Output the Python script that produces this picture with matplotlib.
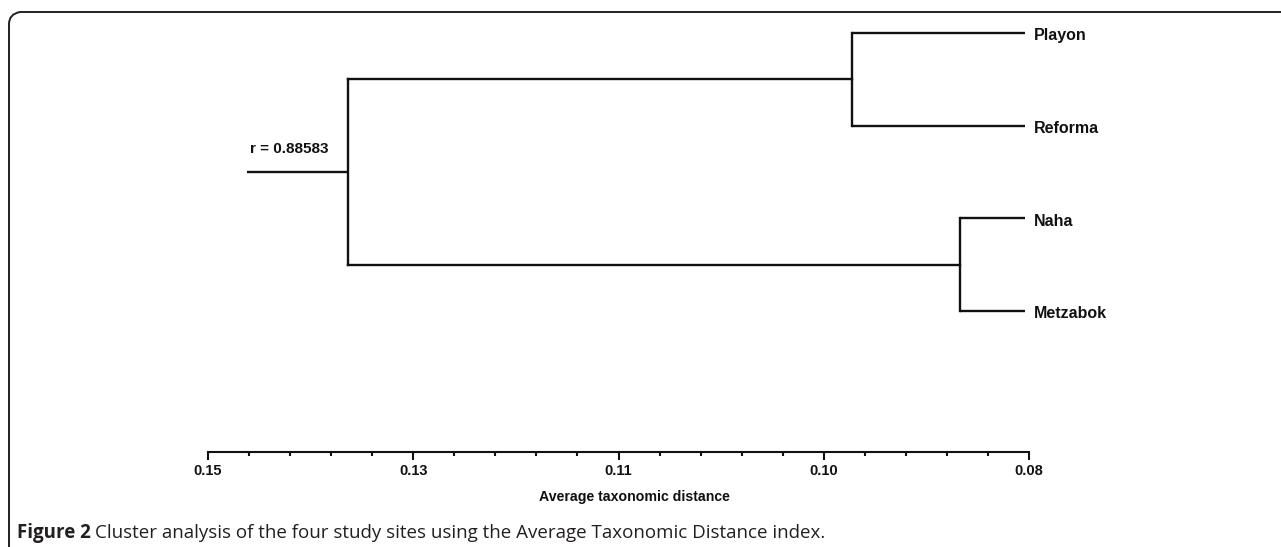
import matplotlib
matplotlib.use("Agg")
import matplotlib.pyplot as plt
from matplotlib.path import Path
from matplotlib.patches import PathPatch

# ---- data ----
leaves = ["Playon", "Reforma", "Naha", "Metzabok"]
leaf_pos = [3, 2, 1, 0]
merge_upper = 0.0951   # Playon + Reforma
merge_lower = 0.0859   # Naha + Metzabok
merge_root = 0.1381    # both clusters
root_stem = 0.1467
leaf_end = 0.0803
r_text = "r = 0.88583"
major_ticks = [0.15, 0.1325, 0.115, 0.0975, 0.08]
major_labels = ["0.15", "0.13", "0.11", "0.10", "0.08"]
minor_step = 0.0035
xlabel = "Average taxonomic distance"
caption_bold = "Figure 2"
caption_rest = "Cluster analysis of the four study sites using the Average Taxonomic Distance index."

W, H = 1281, 547
fig = plt.figure(figsize=(W / 100, H / 100), dpi=100)
plt.rcParams['font.family'] = ['Liberation Sans', 'DejaVu Sans']

# axes: x 208..1029 px, y from 20 px (top) to 452 px (bottom)
ax = fig.add_axes([208 / W, (H - 452) / H, 821 / W, (452 - 20) / H])
ax.set_xlim(0.15, 0.08)
unit = (311 - 33) / 3.0
ax.set_ylim(3 - (452 - 33) / unit, 3 + (33 - 20) / unit)
ax.patch.set_alpha(0)

lw = 1.7
c = "#111111"
upper_mid = (leaf_pos[0] + leaf_pos[1]) / 2
lower_mid = (leaf_pos[2] + leaf_pos[3]) / 2
root_mid = (upper_mid + lower_mid) / 2

# leaves
for p in leaf_pos[:2]:
    ax.plot([merge_upper, leaf_end], [p, p], color=c, lw=lw, solid_capstyle='butt')
for p in leaf_pos[2:]:
    ax.plot([merge_lower, leaf_end], [p, p], color=c, lw=lw, solid_capstyle='butt')
ax.plot([merge_upper, merge_upper], [leaf_pos[1], leaf_pos[0]], color=c, lw=lw)
ax.plot([merge_lower, merge_lower], [leaf_pos[3], leaf_pos[2]], color=c, lw=lw)
ax.plot([merge_root, merge_upper], [upper_mid, upper_mid], color=c, lw=lw)
ax.plot([merge_root, merge_lower], [lower_mid, lower_mid], color=c, lw=lw)
ax.plot([merge_root, merge_root], [lower_mid, upper_mid], color=c, lw=lw)
ax.plot([root_stem, merge_root], [root_mid, root_mid], color=c, lw=lw, solid_capstyle='butt')

for name, p in zip(leaves, leaf_pos):
    ax.text(0.07955, p - 0.03, name, ha='left', va='center', fontsize=11.5,
            fontweight='bold', color=c)
ax.text(root_stem - 0.0003, root_mid + 0.25, r_text, ha='left', va='center',
        fontsize=11, fontweight='bold', color=c)

# axis
for s in ['top', 'left', 'right']:
    ax.spines[s].set_visible(False)
ax.spines['bottom'].set_linewidth(1.5)
ax.spines['bottom'].set_color(c)
ax.set_yticks([])
ax.set_xticks(major_ticks)
ax.set_xticklabels(major_labels, fontsize=10.5, fontweight='bold', color=c)
minors = [0.15 - i * minor_step for i in range(21)]
ax.set_xticks(minors, minor=True)
ax.tick_params(axis='x', which='major', length=5.5, width=1.5, color=c, pad=3)
ax.tick_params(axis='x', which='minor', length=3, width=1.5, color=c)
ax.set_xlabel(xlabel, fontsize=10.2, fontweight='bold', color=c, labelpad=9)
ax.xaxis.set_label_coords((634 - 208) / 821, -(497 - 452) / (452 - 20) - 0.0)
ax.xaxis.label.set_va('center')

# border (top line and left line with rounded corner)
def fx(x):
    return x / W
def fy(y):
    return 1 - y / H
verts = [(fx(9), fy(547)), (fx(9), fy(24)), (fx(9), fy(14)), (fx(20), fy(12)),
         (fx(W + 2), fy(12))]
codes = [Path.MOVETO, Path.LINETO, Path.CURVE3, Path.CURVE3, Path.LINETO]
fig.patches.append(PathPatch(Path(verts, codes), transform=fig.transFigure,
                             fill=False, lw=1.4, edgecolor="#231f20"))

# caption
cap_font = ['Open Sans', 'DejaVu Sans']
t1 = fig.text(fx(17), fy(538), caption_bold, ha='left', va='baseline', fontsize=13.5,
              fontweight='bold', family=cap_font, color="#231f20")
fig.canvas.draw()
bb = t1.get_window_extent()
fig.text(bb.x1 / W + 4 / W, fy(538), caption_rest,
         ha='left', va='baseline', fontsize=13.5, family=cap_font, color="#231f20")

fig.savefig("out.png", dpi=100)
